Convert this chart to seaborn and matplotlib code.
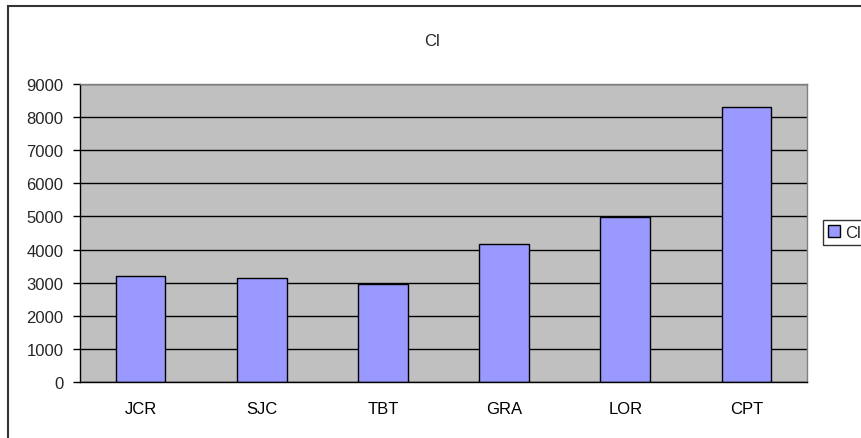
import matplotlib
matplotlib.use("Agg")
import matplotlib.pyplot as plt
import seaborn as sns
import pandas as pd
from matplotlib.patches import Rectangle

# values
sites = ["JCR", "SJC", "TBT", "GRA", "LOR", "CPT"]
cl_values = [3190, 3130, 2970, 4170, 4980, 8300]
series_name = "Cl"

df = pd.DataFrame({"Site": sites, series_name: cl_values})

sns.set_theme(style="white")
plt.rcParams["font.family"] = ["Liberation Sans", "DejaVu Sans"]

fig = plt.figure(figsize=(8.62, 4.39), dpi=100)
ax = fig.add_axes([80 / 862, 1 - 383 / 439, 727 / 862, 298 / 439])
ax.set_facecolor("#C0C0C0")

sns.barplot(
    data=df,
    x="Site",
    y=series_name,
    color="#9999FF",
    edgecolor="black",
    linewidth=1,
    width=0.41,
    saturation=1,
    label=series_name,
    ax=ax,
)

ax.set_xlim(-0.5, len(sites) - 0.5)
ax.set_ylim(0, 9000)
ax.set_yticks(range(0, 9001, 1000))
ax.yaxis.grid(True, color="black", linewidth=1)
ax.set_axisbelow(True)
ax.set_xlabel("")
ax.set_ylabel("")

# category boundary ticks on x, like Excel
ax.set_xticks([i - 0.5 for i in range(len(sites) + 1)], minor=True)
ax.tick_params(axis="x", which="major", length=0, pad=14, labelsize=12, colors="black")
ax.tick_params(axis="x", which="minor", length=5, width=1, color="black", direction="out")
ax.tick_params(axis="y", which="major", length=5, width=1, pad=7, labelsize=12,
               color="black", direction="out", left=True)

for side in ["left", "bottom"]:
    ax.spines[side].set_color("black")
    ax.spines[side].set_linewidth(1)
for side in ["top", "right"]:
    ax.spines[side].set_color("#808080")
    ax.spines[side].set_linewidth(1)

if ax.get_legend() is not None:
    ax.get_legend().remove()

# chart title
fig.text(432 / 862, 1 - 41 / 439, series_name, ha="center", va="center", fontsize=12)

# legend at right, partly cut off like the reference
handles, labels = ax.get_legend_handles_labels()
leg = fig.legend(
    handles[:1], labels[:1],
    loc="upper left",
    bbox_to_anchor=(823 / 862, 1 - 221 / 439),
    frameon=True, fancybox=False, shadow=False,
    fontsize=12, handlelength=0.7, handleheight=0.7, handletextpad=0.3,
    borderpad=0.3, borderaxespad=0,
)
leg.get_frame().set_edgecolor("black")
leg.get_frame().set_linewidth(1)

# outer chart frame
fig.patches.append(Rectangle((8 / 862, -0.1), 1.0, 1 - 7 / 439 + 0.1,
                             transform=fig.transFigure, fill=False,
                             edgecolor="#333333", linewidth=1.5, zorder=0))

fig.savefig("out.png", dpi=100)
plt.close(fig)
